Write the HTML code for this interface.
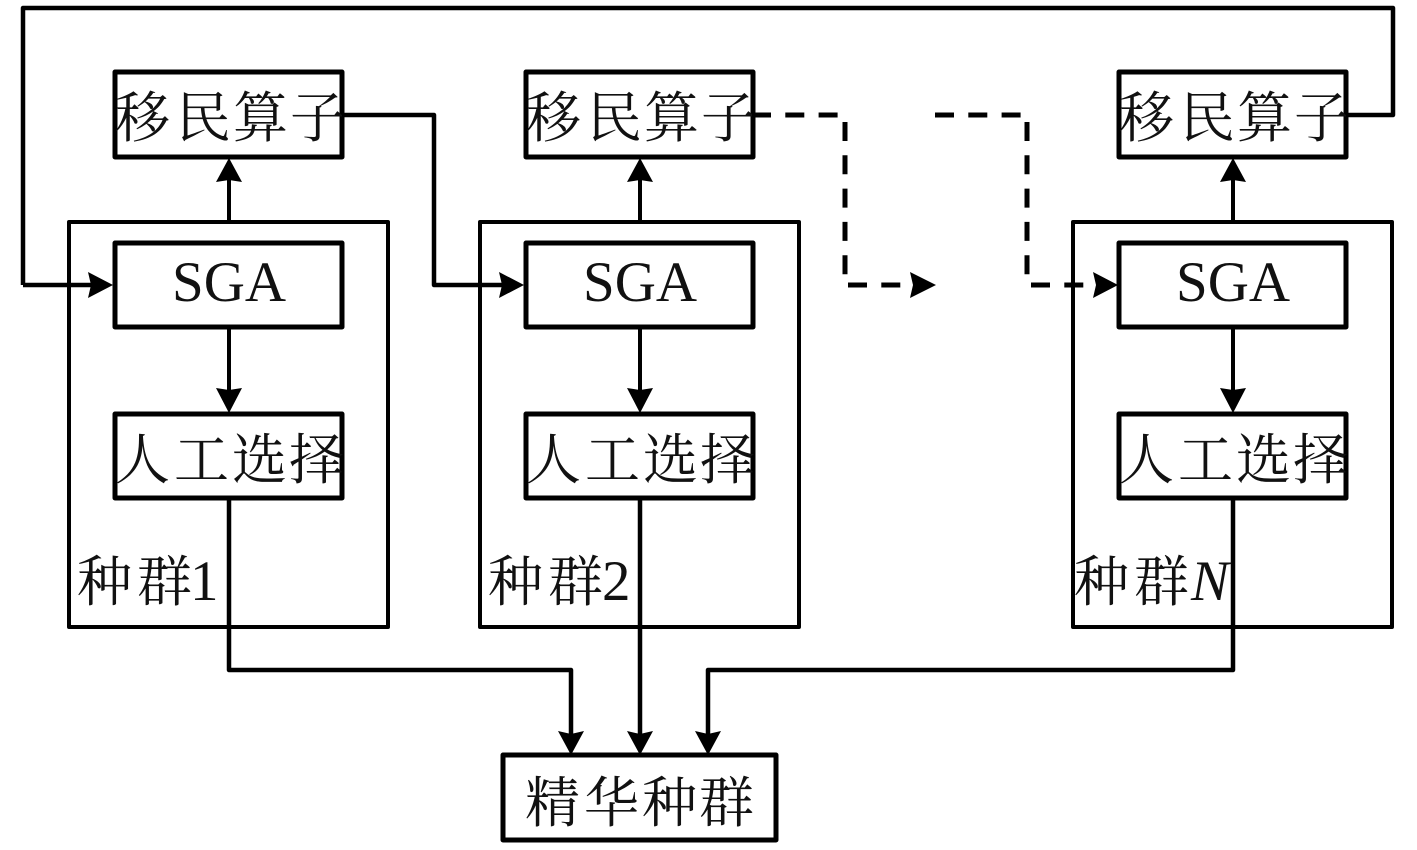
<!DOCTYPE html>
<html><head><meta charset="utf-8"><style>
html,body{margin:0;padding:0;background:#fff;width:1417px;height:850px;overflow:hidden}
svg{display:block}
.c{font-family:"Liberation Serif","Noto Serif CJK SC",serif;font-size:55px;fill:#111}
.l{font-family:"Liberation Serif",serif;font-size:57px;fill:#111}
</style></head><body>
<svg width="1417" height="850" viewBox="0 0 1417 850" xmlns="http://www.w3.org/2000/svg">
<defs>
<g id="grp">
<rect x="69" y="222" width="319" height="405"/>
<rect x="115" y="72" width="227" height="85" stroke-width="5"/>
<rect x="115" y="243" width="227" height="84" stroke-width="5"/>
<rect x="115" y="414" width="227" height="84" stroke-width="5"/>
<path d="M229 222V178M229 327V395"/>
<polygon points="229,158 242,182 229,180 216,182" fill="#000" stroke="none"/>
<polygon points="229,413 216,388 229,390 242,388" fill="#000" stroke="none"/>
<text class="c" stroke="none" x="115 176 233 290" y="137">移民算子</text>
<text class="l" stroke="none" x="172" y="301">SGA</text>
<text class="c" stroke="none" x="115 174 232 289" y="479">人工选择</text>
</g>
</defs>
<g fill="none" stroke="#000" stroke-width="4" stroke-linejoin="round">
<use href="#grp"/>
<use href="#grp" x="411"/>
<use href="#grp" x="1004"/>
<rect x="503" y="755" width="273" height="85" stroke-width="5"/>
<path d="M23 285V8H1393V115H1346M23 285H95" stroke-width="4.5"/>
<path d="M342 115H434V285H505" stroke-width="4.5"/>
<path d="M229 498V670H571V740M640 498V740M1233 498V670H708V740" stroke-width="4.5"/>
<g stroke-width="5" stroke-dasharray="19 14.3" stroke-linecap="butt">
<path d="M752 115H839"/>
<path d="M845 122V276"/>
<path d="M848 285H905"/>
<path d="M935 115H1021"/>
<path d="M1027 122V276"/>
<path d="M1031 285H1088"/>
</g>
</g>
<g fill="#000">
<polygon points="113,285 88,272 91,285 88,298"/>
<polygon points="524,285 499,272 502,285 499,298"/>
<polygon points="936,285 910,272 913,285 910,298"/>
<polygon points="1118,285 1093,272 1096,285 1093,298"/>
<polygon points="571,755 558,731 571,734 584,731"/>
<polygon points="640,755 627,731 640,734 653,731"/>
<polygon points="708,755 695,731 708,734 721,731"/>
</g>
<text class="c" x="77 137" y="601">种群</text>
<text class="l" x="190" y="600">1</text>
<text class="c" x="488 548" y="601">种群</text>
<text class="l" x="602" y="600">2</text>
<text class="c" x="1074 1134" y="601">种群</text>
<text class="l" x="1191" y="600" font-style="italic">N</text>
<text class="c" x="525 584 642 699" y="822">精华种群</text>
</svg>
</body></html>
